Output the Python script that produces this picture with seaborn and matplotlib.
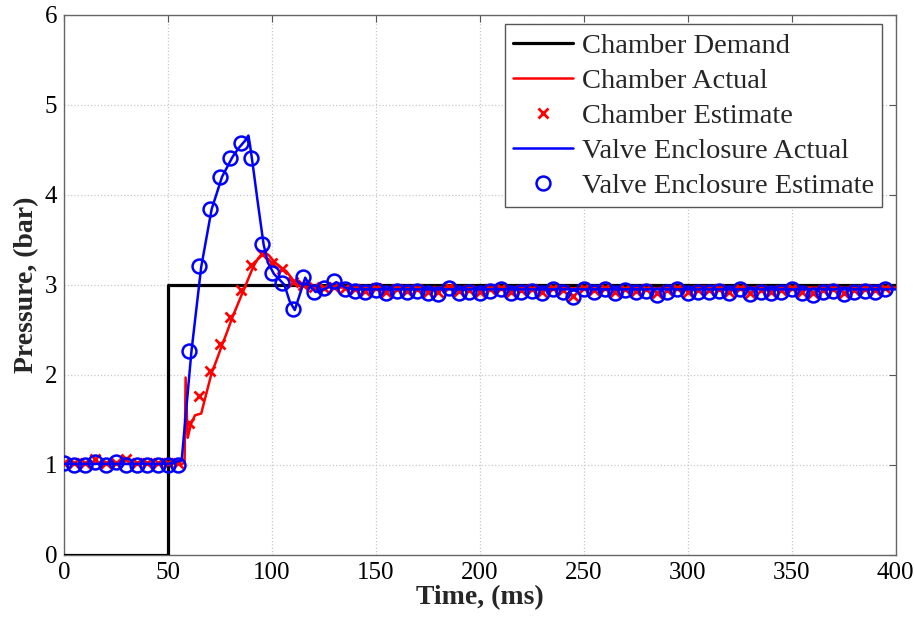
import numpy as np
import matplotlib
matplotlib.use("Agg")
import matplotlib.pyplot as plt
import seaborn as sns

# ---- data ----
demand_t = [0, 50, 50, 400]
demand_p = [0, 0, 3, 3]

chamber_t = [0, 10, 20, 30, 40, 50, 57, 58, 58.5, 59.5, 61, 63, 66, 68, 71, 73.5, 76, 78.5,
             81, 83.5, 86, 88.5, 91, 93, 96, 98.5, 101, 104, 107, 110, 113, 116, 120,
             140, 200, 260, 320, 400]
chamber_p = [1.01, 1.01, 1.02, 1.01, 1.01, 1.01, 1.01, 1.03, 1.97, 1.30, 1.45, 1.55, 1.57,
             1.75, 2.02, 2.17, 2.33, 2.48, 2.64, 2.78, 2.92, 3.06, 3.20, 3.28, 3.37, 3.33,
             3.26, 3.20, 3.15, 3.06, 3.00, 2.98, 2.97, 2.97, 2.97, 2.96, 2.97, 2.97]

valve_t = [0, 10, 20, 30, 40, 50, 56.6, 61.3, 66, 71, 76, 81, 84, 87, 88.7, 89.5, 91, 93,
           96, 98, 101, 104, 106, 108.5, 111, 113.5, 116, 118, 121, 126, 131, 136, 140,
           200, 260, 320, 400]
valve_p = [1.01, 1.01, 1.01, 1.01, 1.01, 1.01, 1.05, 2.26, 3.20, 3.84, 4.20, 4.42, 4.52,
           4.60, 4.66, 4.55, 4.30, 3.95, 3.45, 3.25, 3.12, 3.05, 3.00, 2.82, 2.72, 2.90,
           3.08, 3.00, 2.92, 2.96, 3.03, 2.96, 2.95, 2.95, 2.95, 2.95, 2.95]

est_t = np.arange(0, 400, 5)
chamber_est = [1.02, 1.02, 1.02, 1.06, 1.02, 1.02, 1.06, 1.02, 1.02, 1.02, 1.02, 1.02,
               1.46, 1.76, 2.04, 2.34, 2.64, 2.94, 3.22, 3.34, 3.24, 3.18, 3.03, 3.00,
               2.98, 2.96, 2.98, 2.96,
               2.95, 2.93, 2.96, 2.92, 2.95, 2.93, 2.95, 2.92, 2.92, 2.98, 2.93, 2.94,
               2.92, 2.95, 2.96, 2.92, 2.94, 2.95, 2.92, 2.96, 2.94, 2.88, 2.96, 2.94,
               2.96, 2.92, 2.95, 2.93, 2.95, 2.91, 2.94, 2.96, 2.92, 2.94, 2.94, 2.95,
               2.92, 2.96, 2.91, 2.94, 2.92, 2.94, 2.96, 2.92, 2.91, 2.94, 2.95, 2.91,
               2.94, 2.95, 2.94, 2.96]
valve_est = [1.02, 1.00, 1.00, 1.03, 1.00, 1.03, 1.00, 1.00, 1.00, 1.00, 1.00, 1.00,
             2.27, 3.21, 3.84, 4.20, 4.41, 4.58, 4.41, 3.45, 3.13, 3.02, 2.73, 3.09,
             2.92, 2.96, 3.04, 2.95,
             2.93, 2.92, 2.94, 2.91, 2.93, 2.92, 2.93, 2.91, 2.90, 2.97, 2.91, 2.92,
             2.91, 2.93, 2.95, 2.91, 2.92, 2.93, 2.91, 2.95, 2.92, 2.86, 2.95, 2.92,
             2.95, 2.91, 2.94, 2.92, 2.93, 2.89, 2.92, 2.95, 2.91, 2.92, 2.92, 2.93,
             2.91, 2.95, 2.90, 2.92, 2.91, 2.92, 2.95, 2.91, 2.89, 2.92, 2.93, 2.90,
             2.92, 2.93, 2.92, 2.95]

labels = ["Chamber Demand", "Chamber Actual", "Chamber Estimate",
          "Valve Enclosure Actual", "Valve Enclosure Estimate"]

# ---- plotting ----
sns.set_style("white")
plt.rcParams["font.family"] = ["Liberation Serif", "DejaVu Serif"]

fig = plt.figure(figsize=(9.14, 6.24), dpi=100)
ax = fig.add_axes([0.070, 0.111, 0.910, 0.865])

sns.lineplot(x=demand_t, y=demand_p, estimator=None, sort=False, color="black",
             linewidth=2.3, ax=ax, zorder=3)
sns.lineplot(x=chamber_t, y=chamber_p, estimator=None, sort=False, color="red",
             linewidth=1.8, ax=ax, zorder=4)
ax.plot(est_t, chamber_est, linestyle="none", marker="x", color="red",
        markersize=6.5, markeredgewidth=2, zorder=5)
sns.lineplot(x=valve_t, y=valve_p, estimator=None, sort=False, color="blue",
             linewidth=1.8, ax=ax, zorder=6)
ax.plot(est_t, valve_est, linestyle="none", marker="o", markerfacecolor="none",
        markeredgecolor="blue", markersize=10, markeredgewidth=1.8, zorder=7)

ax.set_xlim(0, 400)
ax.set_ylim(0, 6)
ax.set_xticks(range(0, 401, 50))
ax.set_yticks(range(0, 7))
ax.grid(True, linestyle=":", color="#c8c8c8", linewidth=0.9)
ax.tick_params(direction="in", top=True, right=True, length=5, width=0.8,
               colors="#555555", labelcolor="black", labelsize=18, pad=5)
for s in ax.spines.values():
    s.set_color("#666666")
    s.set_linewidth(1.0)

ax.set_xlabel("Time, (ms)", fontsize=20, fontweight="bold", labelpad=1)
ax.set_ylabel("Pressure, (bar)", fontsize=20, fontweight="bold", labelpad=4)

lines = ax.get_lines()
handles = lines[:5]
leg = ax.legend(handles, labels, loc="upper right", bbox_to_anchor=(0.984, 0.983),
                fancybox=False, framealpha=1, edgecolor="#555555", fontsize=20.5,
                handlelength=2.1, handletextpad=0.3, labelspacing=0.32,
                borderpad=0.3, borderaxespad=0)
leg.get_frame().set_linewidth(1.0)

fig.savefig("out.png", dpi=100)
